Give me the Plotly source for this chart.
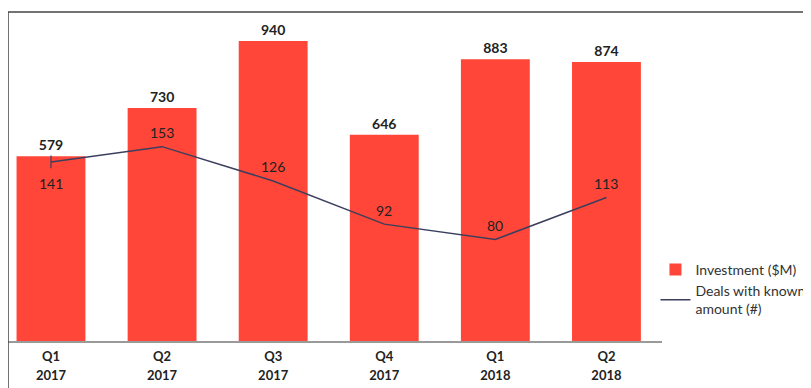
import plotly.graph_objects as go

quarters = ["Q1", "Q2", "Q3", "Q4", "Q1", "Q2"]
years = ["2017", "2017", "2017", "2017", "2018", "2018"]
investment = [579, 730, 940, 646, 883, 874]
deals = [141, 153, 126, 92, 80, 113]
deal_label_below = [True, False, False, False, False, False]

FONT = "Lato, Open Sans, sans-serif"
x_idx = list(range(len(quarters)))

fig = go.Figure()
fig.add_trace(go.Bar(
    x=x_idx, y=investment, name="Investment ($M)",
    marker=dict(color="#FF4638", line=dict(width=0)),
    text=[f"<b>{v}</b>" for v in investment], textposition="outside",
    textfont=dict(family=FONT, size=14, color="#222"),
    cliponaxis=False, width=0.62,
))
fig.add_trace(go.Scatter(
    x=x_idx, y=deals, name="Deals with known<br>amount (#)", yaxis="y2",
    mode="lines",
    line=dict(color="#3B3F5E", width=1.5),
    cliponaxis=False,
))
fig.add_trace(go.Scatter(
    x=x_idx[:1], y=deals[:1], xaxis="x2", yaxis="y2", mode="markers", showlegend=False,
    marker=dict(symbol="line-ns", size=9, color="#3B3F5E",
                line=dict(color="#3B3F5E", width=1.2)),
    hoverinfo="skip",
))

annotations = []
for i, v in enumerate(deals):
    annotations.append(dict(
        x=i, y=v, xref="x", yref="y2", text=str(v), showarrow=False,
        yshift=-22 if deal_label_below[i] else 14,
        font=dict(family=FONT, size=14, color="#222"),
    ))

fig.update_layout(
    width=811, height=388,
    margin=dict(l=0, r=157, t=4, b=55),
    paper_bgcolor="white", plot_bgcolor="white",
    font=dict(family=FONT, size=13, color="#333"),
    showlegend=True,
    legend=dict(x=0.99, y=0.265, xanchor="left", yanchor="top",
                font=dict(family=FONT, size=14, color="#333"),
                bgcolor="rgba(0,0,0,0)", itemwidth=30, tracegroupgap=14),
    xaxis=dict(range=[-0.387, 5.5], tickmode="array", tickvals=x_idx,
               ticktext=[f"<b>{q}</b>" for q in quarters],
               tickfont=dict(family=FONT, size=13, color="#222"),
               ticklabelstandoff=3,
               showgrid=False, zeroline=False, showline=True, automargin=False,
               linecolor="#9a9a9a", linewidth=1.5, ticks=""),
    xaxis2=dict(range=[-0.387, 5.5], overlaying="x", side="bottom",
                tickmode="array", tickvals=x_idx,
                ticktext=[f"<b>{y}</b>" for y in years],
                tickfont=dict(family=FONT, size=13, color="#222"),
                ticklabelstandoff=25,
                showgrid=False, zeroline=False, showline=False, automargin=False, ticks=""),
    yaxis=dict(range=[0, 1031], visible=False, showgrid=False, automargin=False),
    yaxis2=dict(range=[0, 259], overlaying="y", visible=False, showgrid=False, automargin=False),
    annotations=annotations,
    shapes=[
        dict(type="line", xref="paper", yref="paper", x0=0, x1=0, y0=1, y1=-0.2,
             line=dict(color="#444", width=1.5)),
        dict(type="line", xref="paper", yref="paper", x0=0, x1=1.3, y0=1, y1=1,
             line=dict(color="#444", width=1.5)),
    ],
)

fig.write_html("out.html")
